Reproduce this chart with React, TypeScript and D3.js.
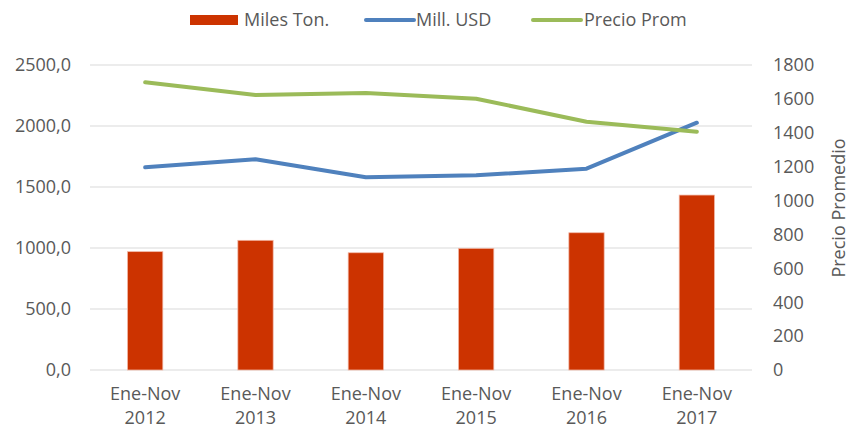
import React from "react";
import * as d3 from "d3";

const categories = ["2012", "2013", "2014", "2015", "2016", "2017"];
const catPrefix = "Ene-Nov";
const milesTon = [970, 1063, 961, 997, 1125, 1434];
const millUSD = [1661, 1727, 1580, 1596, 1650, 2027];
const precioProm = [1698, 1623, 1635, 1601, 1465, 1406];
const leftTicks = [0, 500, 1000, 1500, 2000, 2500];
const rightTicks = [0, 200, 400, 600, 800, 1000, 1200, 1400, 1600, 1800];

const W = 851;
const H = 429;
const FONT = "'Open Sans', sans-serif";
const TXT = "#595959";

export default function App() {
  const x = d3.scaleBand<string>().domain(categories).range([90, 752]).padding(0);
  const yL = d3.scaleLinear().domain([0, 2500]).range([370, 65]);
  const yR = d3.scaleLinear().domain([0, 1800]).range([370, 65]);
  const bw = x.bandwidth() * 0.32;
  const cx = (c: string) => (x(c) as number) + x.bandwidth() / 2;

  const usdLine = d3
    .line<number>()
    .x((_, i) => cx(categories[i]))
    .y((d) => yL(d));
  const priceLine = d3
    .line<number>()
    .x((_, i) => cx(categories[i]))
    .y((d) => yR(d));

  const fmt = (v: number) => v.toFixed(1).replace(".", ",");

  return (
    <svg
      width={W}
      height={H}
      style={{ position: "absolute", left: 0, top: 0, background: "#fff" }}
      fontFamily={FONT}
    >
      <rect x={0} y={0} width={W} height={H} fill="#fff" />
      {leftTicks.map((t) => (
        <line key={t} x1={90} x2={752} y1={yL(t)} y2={yL(t)} stroke="#d9d9d9" strokeWidth={1} />
      ))}
      {leftTicks.map((t) => (
        <text key={"l" + t} x={71} y={yL(t)} dy="0.35em" textAnchor="end" fontSize={18} fill={TXT}>
          {fmt(t)}
        </text>
      ))}
      {rightTicks.map((t) => (
        <text key={"r" + t} x={773} y={yR(t)} dy="0.35em" textAnchor="start" fontSize={18} fill={TXT}>
          {t}
        </text>
      ))}
      <text
        transform={`translate(845,${208}) rotate(-90)`}
        textAnchor="middle"
        fontSize={18}
        fill={TXT}
      >
        Precio Promedio
      </text>
      {categories.map((c, i) => (
        <rect
          key={c}
          x={cx(c) - bw / 2}
          y={yL(milesTon[i])}
          width={bw}
          height={yL(0) - yL(milesTon[i])}
          fill="#cc3300"
          stroke="#f2b8a6"
          strokeWidth={0.75}
        />
      ))}
      <path d={usdLine(millUSD) || ""} fill="none" stroke="#4f81bd" strokeWidth={4} strokeLinejoin="round" strokeLinecap="round" />
      <path d={priceLine(precioProm) || ""} fill="none" stroke="#9bbb59" strokeWidth={4} strokeLinejoin="round" strokeLinecap="round" />
      {categories.map((c) => (
        <g key={"c" + c}>
          <text x={cx(c)} y={394} dy="0.35em" textAnchor="middle" fontSize={18} fill={TXT}>
            {catPrefix}
          </text>
          <text x={cx(c)} y={418} dy="0.35em" textAnchor="middle" fontSize={18} fill={TXT}>
            {c}
          </text>
        </g>
      ))}
      <rect x={190} y={15} width={48} height={10} fill="#cc3300" />
      <text x={244} y={20} dy="0.35em" fontSize={18} fill={TXT}>Miles Ton.</text>
      <line x1={366} x2={414} y1={20} y2={20} stroke="#4f81bd" strokeWidth={4} strokeLinecap="round" />
      <text x={416} y={20} dy="0.35em" fontSize={18} fill={TXT}>Mill. USD</text>
      <line x1={533} x2={581} y1={20} y2={20} stroke="#9bbb59" strokeWidth={4} strokeLinecap="round" />
      <text x={584} y={20} dy="0.35em" fontSize={18} fill={TXT}>Precio Prom</text>
    </svg>
  );
}
